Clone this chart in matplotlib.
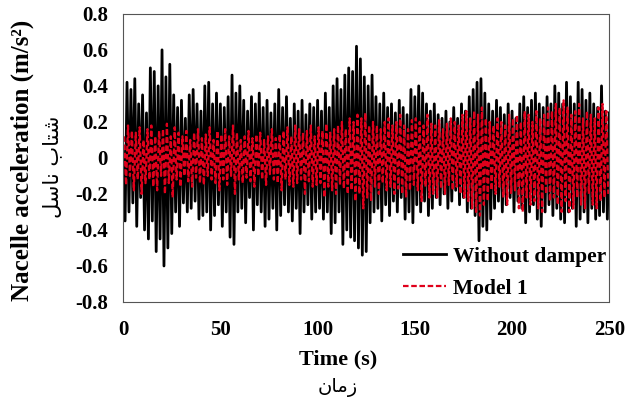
import matplotlib
matplotlib.use('Agg')
import matplotlib.pyplot as plt
import numpy as np

# Peak values, one per second
time_black = np.arange(0, 251)
without_damper = [
    0.05, -0.35, 0.42, -0.30, 0.38, -0.25, 0.44, -0.38, 0.30, -0.22,
    0.35, -0.40, 0.25, -0.45, 0.50, -0.35, 0.48, -0.52, 0.40, -0.45,
    0.60, -0.60, 0.45, -0.50, 0.52, -0.42, 0.35, -0.30, 0.28, -0.38,
    0.32, -0.25, 0.22, -0.30, 0.35, -0.28, 0.38, -0.24, 0.30, -0.34,
    0.26, -0.32, 0.40, -0.30, 0.42, -0.40, 0.30, -0.32, 0.36, -0.26,
    0.30, -0.38, 0.28, -0.30, 0.34, -0.44, 0.46, -0.48, 0.36, -0.30,
    0.40, -0.28, 0.32, -0.36, 0.26, -0.22, 0.34, -0.40, 0.30, -0.26,
    0.36, -0.30, 0.28, -0.38, 0.32, -0.34, 0.25, -0.28, 0.30, -0.40,
    0.38, -0.32, 0.28, -0.26, 0.34, -0.30, 0.22, -0.35, 0.30, -0.28,
    0.26, -0.42, 0.32, -0.30, 0.24, -0.26, 0.30, -0.34, 0.28, -0.30,
    0.32, -0.28, 0.26, -0.34, 0.36, -0.30, 0.28, -0.42, 0.40, -0.36,
    0.44, -0.30, 0.38, -0.48, 0.46, -0.40, 0.50, -0.44, 0.48, -0.46,
    0.62, -0.50, 0.55, -0.54, 0.45, -0.52, 0.40, -0.36, 0.46, -0.30,
    0.34, -0.28, 0.30, -0.35, 0.36, -0.26, 0.28, -0.32, 0.30, -0.24,
    0.25, -0.30, 0.32, -0.22, 0.28, -0.34, 0.24, -0.30, 0.38, -0.36,
    0.34, -0.26, 0.40, -0.30, 0.36, -0.24, 0.30, -0.32, 0.26, -0.28,
    0.30, -0.22, 0.24, -0.26, 0.22, -0.20, 0.26, -0.28, 0.20, -0.24,
    0.28, -0.18, 0.22, -0.26, 0.30, -0.22, 0.26, -0.30, 0.34, -0.28,
    0.38, -0.32, 0.42, -0.46, 0.44, -0.38, 0.36, -0.40, 0.30, -0.34,
    0.26, -0.28, 0.32, -0.24, 0.28, -0.30, 0.24, -0.26, 0.30, -0.22,
    0.26, -0.30, 0.22, -0.24, 0.30, -0.28, 0.34, -0.36, 0.28, -0.30,
    0.32, -0.26, 0.36, -0.34, 0.30, -0.38, 0.28, -0.30, 0.34, -0.26,
    0.30, -0.32, 0.40, -0.28, 0.36, -0.34, 0.30, -0.36, 0.42, -0.30,
    0.34, -0.28, 0.30, -0.38, 0.42, -0.34, 0.38, -0.30, 0.32, -0.36,
    0.36, -0.28, 0.30, -0.34, 0.28, -0.32, 0.40, -0.30, 0.26, -0.34,
    0.25,
]

time_red = np.arange(0, 250) + 0.5
model_1 = [
    0.12, -0.15, 0.18, -0.10, 0.15, -0.18, 0.14, -0.12, 0.17, -0.20,
    0.10, -0.14, 0.16, -0.12, 0.18, -0.16, 0.12, -0.18, 0.15, -0.10,
    0.16, -0.20, 0.19, -0.14, 0.12, -0.22, 0.17, -0.12, 0.14, -0.16,
    0.12, -0.10, 0.15, -0.13, 0.10, -0.16, 0.14, -0.11, 0.16, -0.14,
    0.11, -0.15, 0.13, -0.10, 0.17, -0.12, 0.10, -0.14, 0.15, -0.18,
    0.13, -0.12, 0.16, -0.15, 0.12, -0.10, 0.18, -0.20, 0.14, -0.12,
    0.10, -0.14, 0.12, -0.11, 0.15, -0.13, 0.11, -0.16, 0.13, -0.10,
    0.14, -0.12, 0.10, -0.15, 0.12, -0.09, 0.16, -0.12, 0.11, -0.14,
    0.13, -0.18, 0.15, -0.12, 0.17, -0.15, 0.12, -0.16, 0.18, -0.14,
    0.16, -0.12, 0.14, -0.20, 0.15, -0.13, 0.18, -0.16, 0.12, -0.15,
    0.17, -0.14, 0.15, -0.22, 0.19, -0.16, 0.14, -0.18, 0.16, -0.20,
    0.18, -0.15, 0.20, -0.17, 0.16, -0.20, 0.22, -0.18, 0.20, -0.24,
    0.24, -0.20, 0.22, -0.28, 0.25, -0.22, 0.18, -0.24, 0.20, -0.16,
    0.18, -0.20, 0.16, -0.14, 0.20, -0.18, 0.22, -0.16, 0.18, -0.20,
    0.20, -0.17, 0.24, -0.20, 0.18, -0.22, 0.16, -0.18, 0.21, -0.15,
    0.22, -0.18, 0.20, -0.24, 0.18, -0.16, 0.24, -0.22, 0.19, -0.20,
    0.18, -0.22, 0.21, -0.17, 0.16, -0.20, 0.19, -0.15, 0.22, -0.18,
    0.20, -0.16, 0.18, -0.20, 0.24, -0.22, 0.26, -0.24, 0.22, -0.28,
    0.26, -0.30, 0.24, -0.32, 0.28, -0.26, 0.22, -0.24, 0.20, -0.18,
    0.18, -0.20, 0.22, -0.16, 0.20, -0.22, 0.18, -0.26, 0.24, -0.20,
    0.22, -0.18, 0.24, -0.28, 0.20, -0.30, 0.26, -0.22, 0.24, -0.26,
    0.20, -0.24, 0.26, -0.28, 0.22, -0.30, 0.24, -0.20, 0.28, -0.24,
    0.26, -0.22, 0.30, -0.26, 0.28, -0.30, 0.32, -0.24, 0.28, -0.30,
    0.24, -0.28, 0.26, -0.22, 0.30, -0.26, 0.22, -0.28, 0.26, -0.20,
    0.24, -0.26, 0.22, -0.28, 0.28, -0.24, 0.30, -0.22, 0.26, -0.20,
]

x_ticks = [0, 50, 100, 150, 200, 250]
y_ticks = [-0.8, -0.6, -0.4, -0.2, 0, 0.2, 0.4, 0.6, 0.8]
y_ticklabels = ['-0.8', '-0.6', '-0.4', '-0.2', '0', '0.2', '0.4', '0.6', '0.8']

# Arabic labels written in presentation forms, visual order
ar_time = '\uFEE5\uFE8E\uFEE3\uFEAF'
ar_accel = '\uFEDE\uFEB3\uFE8E\uFEE7 \uFE8F\uFE8E\uFE98\uFEB7'

serif = 'Liberation Serif'

fig = plt.figure(figsize=(6.38, 4.07), dpi=100)
ax = fig.add_axes([0.193, 0.258, 0.762, 0.708])

ax.plot(time_black, without_damper, color='black', lw=2.0, label='Without damper')
ax.plot(time_red, model_1, color='#e0001b', lw=1.6, ls=(0, (2.5, 1.2)), label='Model 1')

ax.set_xlim(0, 250)
ax.set_ylim(-0.8, 0.8)
ax.set_xticks(x_ticks)
ax.set_yticks(y_ticks)
ax.set_yticklabels(y_ticklabels)
ax.tick_params(axis='y', length=0, pad=11)
ax.tick_params(axis='x', length=0, pad=13)
for lab in ax.get_xticklabels() + ax.get_yticklabels():
    lab.set_fontfamily(serif)
    lab.set_fontweight('bold')
    lab.set_fontsize(15)

for sp in ax.spines.values():
    sp.set_linestyle((0, (2, 1)))
    sp.set_color('#555555')
    sp.set_linewidth(0.8)

ax.set_xlabel('Time (s)', fontfamily=serif, fontweight='bold', fontsize=16)
ax.xaxis.set_label_coords(0.442, -0.165)
ax.set_ylabel('Nacelle acceleration (m/s²)', fontfamily=serif, fontweight='bold',
              fontsize=18)
ax.yaxis.set_label_coords(-0.183, 0.49)

fig.text(0.53, 0.048, ar_time, family='DejaVu Sans', fontsize=14,
         ha='center', va='center')
fig.text(0.0815, 0.59, ar_accel, family='DejaVu Sans', fontsize=15, rotation=90,
         ha='center', va='center')

leg = ax.legend(loc='lower right', frameon=False, handlelength=2.0,
                handletextpad=0.3, borderaxespad=0.0, borderpad=0.15,
                labelspacing=0.55,
                prop={'family': serif, 'weight': 'bold', 'size': 15.5})

fig.savefig('out.png', dpi=100)
